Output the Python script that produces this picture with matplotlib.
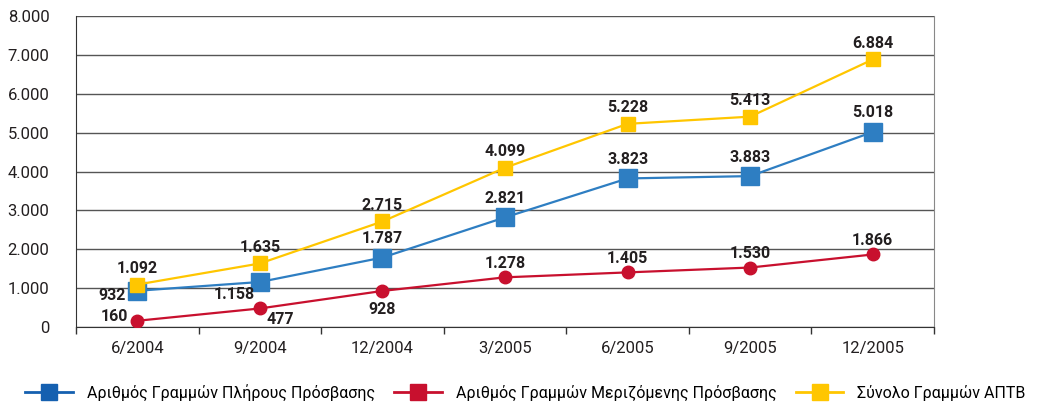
import matplotlib.pyplot as plt
from matplotlib.ticker import FuncFormatter, FixedLocator
from matplotlib.lines import Line2D

periods = ["6/2004", "9/2004", "12/2004", "3/2005", "6/2005", "9/2005", "12/2005"]
full_access = [932, 1158, 1787, 2821, 3823, 3883, 5018]
shared_access = [160, 477, 928, 1278, 1405, 1530, 1866]
total_lines = [1092, 1635, 2715, 4099, 5228, 5413, 6884]

names = ["Αριθμός Γραμμών Πλήρους Πρόσβασης",
         "Αριθμός Γραμμών Μεριζόμενης Πρόσβασης",
         "Σύνολο Γραμμών ΑΠΤΒ"]

BLUE = "#2e7ec2"
RED = "#c8102e"
YELLOW = "#ffc600"
INK = "#231f20"

plt.rcParams['font.family'] = ['Roboto', 'DejaVu Sans']

fig = plt.figure(figsize=(10.47, 4.03), dpi=100)
ax = fig.add_axes([0.0726, 0.1886, 0.8195, 0.7714])

x = list(range(len(periods)))

def fmt(v):
    return f"{v:,}".replace(",", ".")

ax.plot(x, total_lines, color=YELLOW, lw=1.6, marker="s", ms=9.5, zorder=4)
ax.plot(x, full_access, color=BLUE, lw=1.6, marker="s", ms=13, zorder=3)
ax.plot(x, shared_access, color=RED, lw=1.6, marker="o", ms=9, zorder=3)

lbl = dict(fontsize=11.5, fontweight="bold", color=INK, zorder=6,
           textcoords="offset points", va="center")

def note(xi, v, dx, dy, ha="center"):
    # dx, dy in pixels; convert to points (72/100)
    ax.annotate(fmt(v), (xi, v), xytext=(dx * 0.72, dy * 0.72), ha=ha, **lbl)

for xi, v in zip(x, total_lines):
    note(xi, v, 0, 16)

for xi, v in zip(x, full_access):
    if xi == 0:
        note(xi, v, -12, -5, "right")
    elif xi == 1:
        note(xi, v, -5, -13, "right")
    else:
        note(xi, v, 0, 19)

for xi, v in zip(x, shared_access):
    if xi == 0:
        note(xi, v, -9, 4, "right")
    elif xi == 1:
        note(xi, v, 7, -11, "left")
    elif xi == 2:
        note(xi, v, 0, -19)
    else:
        note(xi, v, 0, 14)

ax.set_xlim(-0.5, len(periods) - 0.5)
ax.set_ylim(0, 8000)
ax.yaxis.set_major_locator(FixedLocator(range(0, 8001, 1000)))
ax.yaxis.set_major_formatter(FuncFormatter(lambda v, p: fmt(int(v))))
ax.set_xticks(x)
ax.set_xticklabels(periods)
ax.set_xticks([i + 0.5 for i in range(-1, len(periods))], minor=True)
ax.tick_params(axis="x", which="major", length=0, pad=10, labelsize=12, colors=INK)
ax.tick_params(axis="x", which="minor", length=5, width=1, color="#333333")
ax.tick_params(axis="y", length=0, pad=19, labelsize=12, colors=INK)

ax.grid(axis="y", color="#555555", lw=1)
ax.set_axisbelow(True)
ax.spines["top"].set_visible(False)
ax.spines["left"].set_color("#333333")
ax.spines["bottom"].set_color("#333333")
ax.spines["right"].set_color("#888888")

handles = [
    Line2D([], [], color="#1560b0", lw=2, marker="s", ms=11.5),
    Line2D([], [], color=RED, lw=2, marker="s", ms=11.5),
    Line2D([], [], color=YELLOW, lw=2, marker="s", ms=11.5),
]
fig.legend(handles, names, loc="lower left", bbox_to_anchor=(0.0105, -0.03), ncol=3,
           frameon=False, fontsize=11.5, handlelength=3.0, columnspacing=1.2,
           handletextpad=0.85)

fig.savefig("out.png", dpi=100)
